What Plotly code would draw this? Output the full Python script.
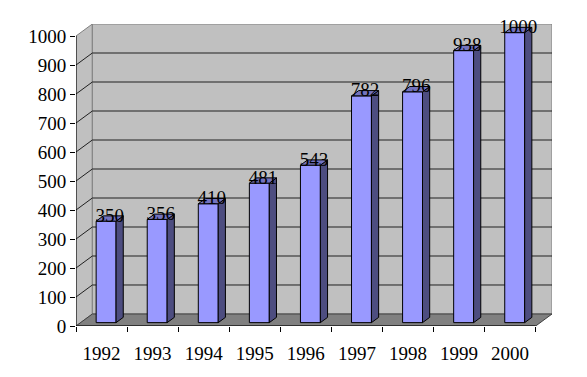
import plotly.graph_objects as go

years = ["1992", "1993", "1994", "1995", "1996", "1997", "1998", "1999", "2000"]
values = [350, 356, 410, 481, 543, 782, 796, 938, 1000]
y_ticks = [0, 100, 200, 300, 400, 500, 600, 700, 800, 900, 1000]

# 3D projection parameters (data units)
D = 0.32      # depth offset in category units
H = 41.4      # depth offset in value units
f0 = 0.28     # bar front offset as fraction of depth
fd = 0.44     # bar depth as fraction of depth
w = 0.39      # bar width
ymax = 1000
n = len(years)
FONT = "Liberation Serif"
FS = 19

fig = go.Figure()

# front faces
xs = [i + f0 * D for i in range(n)]
fig.add_trace(go.Bar(x=xs, y=values, base=f0 * H, width=w,
                     marker=dict(color="#9999FF", line=dict(color="#000000", width=1)),
                     hoverinfo="skip", showlegend=False))

# side and top faces
sx, sy, tx, ty = [], [], [], []
for i, v in enumerate(values):
    xl = i + f0 * D - w / 2
    xr = i + f0 * D + w / 2
    b = f0 * H
    sx += [xr, xr + fd * D, xr + fd * D, xr, xr, None]
    sy += [b, b + fd * H, v + b + fd * H, v + b, b, None]
    tx += [xl, xr, xr + fd * D, xl + fd * D, xl, None]
    ty += [v + b, v + b, v + b + fd * H, v + b + fd * H, v + b, None]
fig.add_trace(go.Scatter(x=sx, y=sy, mode="lines", fill="toself", fillcolor="#4D4D80",
                         line=dict(color="#000000", width=1), hoverinfo="skip", showlegend=False))
fig.add_trace(go.Scatter(x=tx, y=ty, mode="lines", fill="toself", fillcolor="#7373BF",
                         line=dict(color="#000000", width=1), hoverinfo="skip", showlegend=False))

# data labels
fig.add_trace(go.Scatter(x=[i + (f0 + fd / 2) * D for i in range(n)],
                         y=[v + (f0 + fd / 2) * H + 6 for v in values],
                         mode="text", text=[str(v) for v in values],
                         textposition="middle center", cliponaxis=False,
                         textfont=dict(family=FONT, size=FS, color="#000000"),
                         hoverinfo="skip", showlegend=False))

x0, x1 = -0.5, n - 0.5
shapes = []
# left wall
shapes.append(dict(type="path", xref="x", yref="y", layer="below",
                   path=f"M {x0},0 L {x0+D},{H} L {x0+D},{ymax+H} L {x0},{ymax} Z",
                   fillcolor="#C0C0C0", line=dict(color="#808080", width=1)))
# back wall
shapes.append(dict(type="path", xref="x", yref="y", layer="below",
                   path=f"M {x0+D},{H} L {x1+D},{H} L {x1+D},{ymax+H} L {x0+D},{ymax+H} Z",
                   fillcolor="#C0C0C0", line=dict(color="#808080", width=1)))
# floor
shapes.append(dict(type="path", xref="x", yref="y", layer="below",
                   path=f"M {x0},0 L {x1},0 L {x1+D},{H} L {x0+D},{H} Z",
                   fillcolor="#808080", line=dict(color="#404040", width=1)))
# gridlines
for t in y_ticks[1:-1]:
    shapes.append(dict(type="path", xref="x", yref="y", layer="below",
                       path=f"M {x0},{t} L {x0+D},{t+H} L {x1+D},{t+H}",
                       line=dict(color="#202020", width=1)))
# front axes
shapes.append(dict(type="line", xref="x", yref="y", layer="below",
                   x0=x0, y0=0, x1=x0, y1=ymax, line=dict(color="#000000", width=1)))
shapes.append(dict(type="line", xref="x", yref="y", layer="below",
                   x0=x0, y0=0, x1=x1, y1=0, line=dict(color="#000000", width=1)))

fig.update_layout(
    width=579, height=369,
    margin=dict(l=68, r=35, t=16, b=51, autoexpand=False),
    paper_bgcolor="#FFFFFF", plot_bgcolor="#FFFFFF",
    shapes=shapes, showlegend=False, barmode="overlay",
    font=dict(family=FONT, size=FS, color="#000000"),
    xaxis=dict(range=[x0, x1 + D], tickvals=list(range(n)), ticktext=years,
               ticks="", showgrid=False, zeroline=False, showline=False,
               ticklabelstandoff=14, fixedrange=True, automargin=False,
               tickfont=dict(family=FONT, size=FS, color="#000000"),
               minor=dict(ticks="outside", ticklen=5, tickcolor="#000000",
                          tick0=-0.5, dtick=1, showgrid=False)),
    yaxis=dict(range=[0, ymax + H], tickvals=y_ticks, ticks="outside", ticklen=5,
               tickcolor="#000000", showgrid=False, zeroline=False, showline=False,
               fixedrange=True, automargin=False,
               tickfont=dict(family=FONT, size=FS, color="#000000")),
)

fig.write_html("out.html")
